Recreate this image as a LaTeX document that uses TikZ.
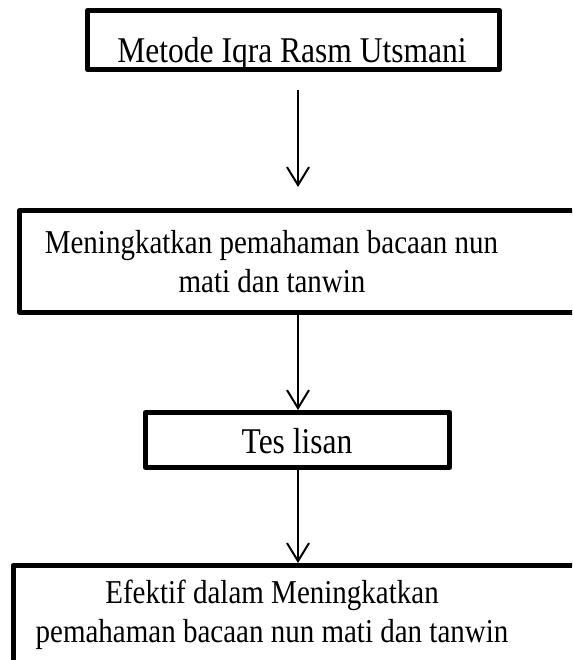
\documentclass[tikz,border=0pt]{standalone}
\usepackage{graphicx}
\usepackage{fontspec}
\setmainfont{Liberation Serif}
\usetikzlibrary{arrows.meta}
\newcommand\vstretch[1]{\scalebox{1}[1.15]{#1}}
\begin{document}
\begin{tikzpicture}[x=1pt,y=-1pt,
  box/.style={draw, line width=5pt, inner sep=0pt, line join=round, rectangle},
  bigtxt/.style={anchor=base, inner sep=0pt, font=\fontsize{31.5}{39}\selectfont},
  smalltxt/.style={anchor=base, inner sep=0pt, font=\fontsize{29}{39}\selectfont},
  arr/.style={line width=2pt, -{Straight Barb[length=18pt,width=22pt]}}]
\useasboundingbox (0,0) rectangle (572,660);
\fill[white] (0,0) rectangle (572,660);
\clip (0,0) rectangle (572,660);
% boxes
\node[box, minimum width=412pt, minimum height=59pt] (b1) at (293.5,40) {};
\node[box, minimum width=620pt, minimum height=102pt] (b2) at (329.5,261.5) {};
\node[box, minimum width=304pt, minimum height=55pt] (b3) at (297.5,440) {};
\node[box, minimum width=627pt, minimum height=96.5pt] (b4) at (326.5,613.75) {};
% texts
\node[bigtxt] (t1) at (292,63) {\vstretch{Metode Iqra Rasm Utsmani}};
\node[smalltxt] (t2a) at (271.5,253) {\vstretch{Meningkatkan pemahaman bacaan nun}};
\node[smalltxt] (t2b) at (272,292) {\vstretch{mati dan tanwin}};
\node[bigtxt] (t3) at (297,453) {\vstretch{Tes lisan}};
\node[smalltxt] (t4a) at (272,603) {\vstretch{Efektif dalam Meningkatkan}};
\node[smalltxt] (t4b) at (272,642) {\vstretch{pemahaman bacaan nun mati dan tanwin}};
% connectors
\coordinate (col) at (298,0);
\draw[arr, shorten <=18pt, shorten >=21pt] (b1.south -| col) -- (b2.north -| col);
\draw[arr] (b2.south -| col) -- (b3.north -| col);
\draw[arr] (b3.south -| col) -- (b4.north -| col);
\end{tikzpicture}
\end{document}
